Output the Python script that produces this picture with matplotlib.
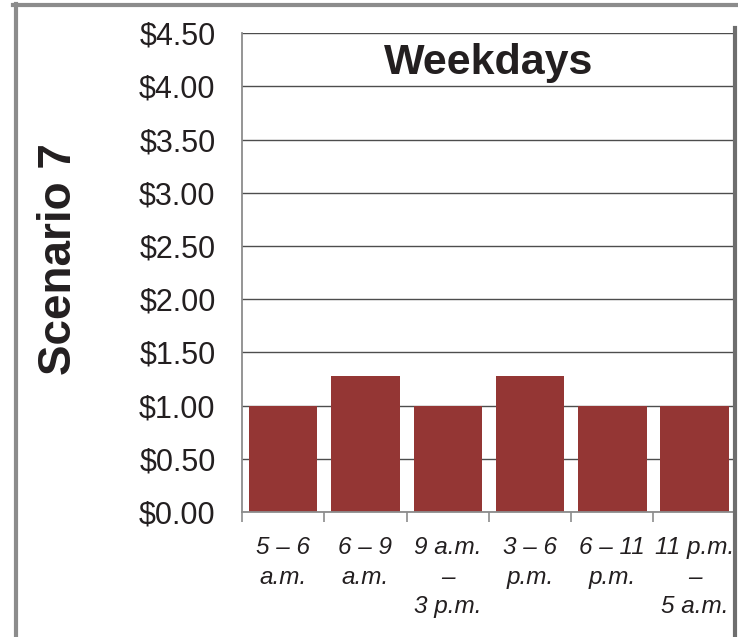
import matplotlib
matplotlib.use("Agg")
import matplotlib.pyplot as plt
from matplotlib.lines import Line2D
from matplotlib.ticker import FixedLocator

# Fare by time period (weekdays)
periods = ["5 – 6\na.m.", "6 – 9\na.m.", "9 a.m.\n–\n3 p.m.",
           "3 – 6\np.m.", "6 – 11\np.m.", "11 p.m.\n–\n5 a.m."]
fares = [1.00, 1.28, 1.00, 1.28, 1.00, 1.00]
y_ticks = [0.0, 0.5, 1.0, 1.5, 2.0, 2.5, 3.0, 3.5, 4.0, 4.5]
y_tick_labels = ["$0.00", "$0.50", "$1.00", "$1.50", "$2.00",
                 "$2.50", "$3.00", "$3.50", "$4.00", "$4.50"]
panel_title = "Weekdays"
row_label = "Scenario 7"

bar_color = "#943634"
text_color = "#231f20"
grid_color = "#4d4d4d"
frame_color = "#8c8c8c"

fig = plt.figure(figsize=(7.38, 6.37), dpi=100)
ax = fig.add_axes([0.328, 0.196, 0.669, 0.752])

x = list(range(len(periods)))
ax.bar(x, fares, width=0.83, color=bar_color, zorder=3)

ax.set_xlim(-0.5, len(periods) - 0.5)
ax.set_ylim(0, 4.5)

ax.set_yticks(y_ticks)
ax.set_yticklabels(y_tick_labels, fontsize=22, color=text_color,
                   family=["Liberation Sans", "DejaVu Sans"])
ax.tick_params(axis="y", length=0, pad=19)
ax.yaxis.grid(True, color=grid_color, linewidth=1.0, zorder=0)

ax.set_xticks(x)
ax.set_xticklabels(periods, fontsize=17.5, style="italic", color=text_color,
                   family=["Liberation Sans", "DejaVu Sans"],
                   linespacing=1.38, va="top")
ax.tick_params(axis="x", which="major", length=0, pad=17)
ax.xaxis.set_minor_locator(FixedLocator([i - 0.5 for i in range(len(periods) + 1)]))
ax.tick_params(axis="x", which="minor", length=7, width=1.2, color=frame_color)

for side in ("top", "right"):
    ax.spines[side].set_visible(False)
ax.spines["left"].set_color(frame_color)
ax.spines["left"].set_linewidth(1.3)
ax.spines["bottom"].set_color(frame_color)
ax.spines["bottom"].set_linewidth(1.3)
ax.spines["bottom"].set_zorder(4)

ax.text(0.5, 0.937, panel_title, transform=ax.transAxes, ha="center", va="center",
        fontsize=31, fontweight="bold", color=text_color,
        family=["Liberation Sans", "DejaVu Sans"], zorder=5)

fig.text(59 / 738, 1 - 259 / 637, row_label, rotation=90, ha="center", va="center",
         fontsize=33, fontweight="bold", color=text_color,
         family=["Liberation Sans", "DejaVu Sans"])

# Outer frame lines
fig.add_artist(Line2D([13 / 738, 1.0], [1 - 5 / 637, 1 - 5 / 637],
                      transform=fig.transFigure, color=frame_color, linewidth=3))
fig.add_artist(Line2D([15.5 / 738, 15.5 / 738], [0, 1 - 4 / 637],
                      transform=fig.transFigure, color=frame_color, linewidth=3))
fig.add_artist(Line2D([734.5 / 738, 734.5 / 738], [0, 1 - 28 / 637],
                      transform=fig.transFigure, color="#6e6e6e", linewidth=3))

fig.savefig("out.png", dpi=100)
